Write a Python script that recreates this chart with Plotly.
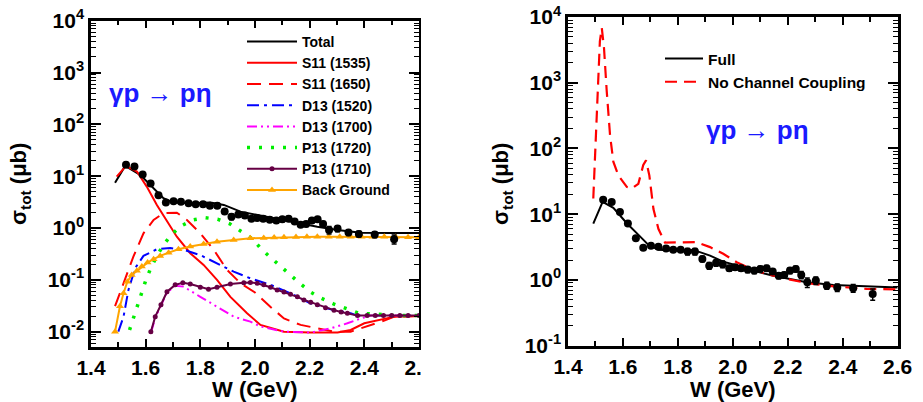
import plotly.graph_objects as go

# ---------------- data ----------------
W_data = [1.528, 1.559, 1.589, 1.618, 1.647, 1.674, 1.702, 1.729, 1.757, 1.783, 1.810, 1.835,
          1.862, 1.889, 1.914, 1.939, 1.963, 1.987, 2.008, 2.030, 2.054, 2.078, 2.100, 2.123,
          2.145, 2.167, 2.187, 2.208, 2.229, 2.249, 2.271, 2.302, 2.342, 2.380, 2.438, 2.509]
sig_data = [16.6, 15.4, 10.8, 7.2, 4.3, 3.1, 3.3, 3.2, 3.0, 2.87, 2.87, 2.70,
            2.70, 2.09, 1.65, 1.82, 1.74, 1.51, 1.56, 1.51, 1.44, 1.39, 1.47, 1.51,
            1.34, 1.16, 1.19, 1.39, 1.47, 1.19, 0.92, 0.98, 0.82, 0.77, 0.75, 0.61]
err_data = [0.4, 0.4, 0.3, 0.2, 0.15, 0.12, 0.12, 0.12, 0.12, 0.15, 0.2, 0.3,
            0.3, 0.2, 0.2, 0.2, 0.2, 0.15, 0.15, 0.15, 0.15, 0.15, 0.15, 0.15,
            0.12, 0.12, 0.12, 0.15, 0.15, 0.15, 0.15, 0.13, 0.1, 0.1, 0.1, 0.12]

# Left panel curves
W_total = [1.488, 1.525, 1.58, 1.629, 1.665, 1.702, 1.763, 1.837, 1.886, 1.947, 2.008, 2.057,
           2.142, 2.228, 2.302, 2.387, 2.497, 2.6]
s_total = [7.5, 15.8, 10.6, 5.9, 3.76, 3.09, 3.0, 3.09, 2.79, 2.07, 1.79, 1.55,
           1.27, 1.06, 0.92, 0.81, 0.80, 0.80]

W_s1535 = [1.494, 1.528, 1.568, 1.604, 1.641, 1.678, 1.714, 1.763, 1.812, 1.861, 1.91, 1.971,
           2.02, 2.106, 2.204, 2.302, 2.35, 2.4, 2.473, 2.51, 2.6]
s_s1535 = [9.8, 15.8, 12.3, 6.3, 2.79, 1.33, 0.68, 0.326, 0.194, 0.1, 0.047, 0.0226,
           0.0135, 0.01, 0.0096, 0.0096, 0.0108, 0.0145, 0.018, 0.0195, 0.02]

W_s1650 = [1.488, 1.519, 1.555, 1.592, 1.629, 1.665, 1.714, 1.751, 1.8, 1.849, 1.898, 1.947,
           2.0, 2.057, 2.106, 2.167, 2.228, 2.289, 2.35, 2.411, 2.473, 2.51, 2.6]
s_s1650 = [0.031, 0.086, 0.28, 0.79, 1.43, 1.93, 1.98, 1.43, 0.79, 0.38, 0.155, 0.086,
           0.057, 0.030, 0.018, 0.0135, 0.0116, 0.01, 0.01, 0.0126, 0.0163, 0.0195, 0.02]

W_d1520 = [1.5, 1.519, 1.537, 1.562, 1.592, 1.641, 1.69, 1.739, 1.8, 1.861, 1.922, 1.983,
           2.057, 2.13, 2.204, 2.277, 2.35, 2.375, 2.6]
s_d1520 = [0.01, 0.0195, 0.064, 0.17, 0.29, 0.39, 0.41, 0.38, 0.30, 0.21, 0.144, 0.107,
           0.08, 0.055, 0.035, 0.027, 0.0226, 0.0204, 0.0204]

W_d1700 = [1.62, 1.636, 1.656, 1.678, 1.708, 1.739, 1.8, 1.861, 1.922, 1.983, 2.02, 2.106,
           2.204, 2.277, 2.338, 2.387, 2.424, 2.6]
s_d1700 = [0.0098, 0.019, 0.032, 0.057, 0.077, 0.074, 0.047, 0.030, 0.0195, 0.0156, 0.0126, 0.01,
           0.0096, 0.0116, 0.0145, 0.018, 0.0204, 0.0204]

W_p1720 = [1.541, 1.555, 1.57, 1.586, 1.601, 1.619, 1.641, 1.665, 1.694, 1.73, 1.773, 1.818,
           1.863, 1.908, 1.95, 1.992, 2.023, 2.06, 2.096, 2.13, 2.167, 2.204, 2.243, 2.289,
           2.335, 2.381, 2.43, 2.473, 2.52, 2.6]
s_p1720 = [0.0108, 0.018, 0.033, 0.057, 0.1, 0.17, 0.29, 0.47, 0.74, 1.1, 1.43, 1.58,
           1.48, 1.2, 0.85, 0.61, 0.39, 0.26, 0.175, 0.12, 0.083, 0.058, 0.044, 0.034,
           0.028, 0.0226, 0.022, 0.021, 0.0204, 0.0204]

W_p1710 = [1.619, 1.635, 1.656, 1.678, 1.708, 1.736, 1.763, 1.8, 1.83, 1.861, 1.91, 1.959,
           1.983, 2.008, 2.032, 2.057, 2.081, 2.106, 2.13, 2.155, 2.179, 2.204, 2.228, 2.258,
           2.289, 2.315, 2.338, 2.375, 2.41, 2.44, 2.47, 2.5, 2.53, 2.56, 2.6]
s_p1710 = [0.01, 0.0195, 0.033, 0.059, 0.08, 0.088, 0.083, 0.072, 0.066, 0.072, 0.083, 0.088,
           0.089, 0.086, 0.08, 0.072, 0.064, 0.058, 0.053, 0.047, 0.041, 0.037, 0.033, 0.029,
           0.026, 0.024, 0.0226, 0.0204, 0.0204, 0.0204, 0.0204, 0.0204, 0.0204, 0.0204, 0.0204]

W_bg = [1.488, 1.506, 1.519, 1.533, 1.549, 1.568, 1.586, 1.607, 1.629, 1.653, 1.684, 1.72,
        1.763, 1.812, 1.861, 1.922, 1.983, 2.032, 2.07, 2.106, 2.15, 2.19, 2.228, 2.27,
        2.31, 2.35, 2.39, 2.43, 2.473, 2.515, 2.56, 2.6]
s_bg = [0.01, 0.031, 0.055, 0.092, 0.124, 0.15, 0.18, 0.215, 0.25, 0.29, 0.335, 0.39,
        0.44, 0.49, 0.545, 0.59, 0.635, 0.645, 0.655, 0.66, 0.67, 0.675, 0.68, 0.68,
        0.68, 0.68, 0.68, 0.68, 0.68, 0.67, 0.665, 0.66]

# Right panel curves
W_full = [1.492, 1.526, 1.565, 1.614, 1.662, 1.692, 1.729, 1.783, 1.844, 1.88, 1.917, 1.965,
          2.025, 2.087, 2.147, 2.208, 2.269, 2.366, 2.487, 2.6]
s_full = [7.2, 15.4, 12.5, 7.3, 4.6, 3.45, 2.87, 2.81, 2.87, 2.65, 2.35, 1.9,
          1.62, 1.34, 1.16, 1.04, 0.92, 0.84, 0.80, 0.77]

W_nocc = [1.492, 1.504, 1.516, 1.523, 1.528, 1.531, 1.541, 1.553, 1.565, 1.583, 1.614, 1.632,
          1.656, 1.674, 1.684, 1.696, 1.711, 1.729, 1.753, 1.818, 1.868, 1.917, 1.965, 2.014,
          2.062, 2.123, 2.195, 2.269, 2.366, 2.487, 2.6]
s_nocc = [17.3, 227, 4260, 6800, 3800, 3400, 740, 160, 63, 39, 26, 24.5,
          29, 56, 66, 39, 12, 6.0, 3.7, 3.76, 3.76, 3.16, 2.5, 1.86,
          1.51, 1.23, 1.04, 0.9, 0.8, 0.73, 0.72]

x_ticks = [1.4, 1.6, 1.8, 2.0, 2.2, 2.4, 2.6]
x_ticktext = ["1.4", "1.6", "1.8", "2.0", "2.2", "2.4", "2.6"]
yL_ticks = [1e-2, 1e-1, 1e0, 1e1, 1e2, 1e3, 1e4]
yL_ticktext = ["10<sup>-2</sup>", "10<sup>-1</sup>", "10<sup>0</sup>", "10<sup>1</sup>",
               "10<sup>2</sup>", "10<sup>3</sup>", "10<sup>4</sup>"]
yR_ticks = [1e-1, 1e0, 1e1, 1e2, 1e3, 1e4]
yR_ticktext = ["10<sup>-1</sup>", "10<sup>0</sup>", "10<sup>1</sup>",
               "10<sup>2</sup>", "10<sup>3</sup>", "10<sup>4</sup>"]

FONT = "Arial, Liberation Sans, sans-serif"

fig = go.Figure()

def L(name, x, y, color, dash="solid", width=2.0, mode="lines", marker=None, xa="x", ya="y", legend="legend", showlegend=True):
    fig.add_trace(go.Scatter(x=x, y=y, name=name, mode=mode, xaxis=xa, yaxis=ya,
                             line=dict(color=color, dash=dash, width=width),
                             marker=marker, legend=legend, showlegend=showlegend))

# left panel
L("Total", W_total, s_total, "black", width=2.0)
L("S11 (1535)", W_s1535, s_s1535, "#ff0000", width=2.0)
L("S11 (1650)", W_s1650, s_s1650, "#ff0000", dash="14px,8px", width=2.0)
L("D13 (1520)", W_d1520, s_d1520, "#0000ff", dash="12px,5px,3px,5px", width=2.0)
L("D13 (1700)", W_d1700, s_d1700, "#ff00ff", dash="10px,4px,2px,4px,2px,4px", width=2.0)
L("P13 (1720)", W_p1720, s_p1720, "#00ee00", dash="3px,9px", width=3.5)
L("P13 (1710)", W_p1710, s_p1710, "#660044", width=2.0, mode="lines+markers",
  marker=dict(symbol="circle", size=5, color="#660044"))
L("Back Ground", W_bg, s_bg, "#ffa500", width=2.0, mode="lines+markers",
  marker=dict(symbol="triangle-up", size=7, color="#ffa500"))

fig.add_trace(go.Scatter(x=W_data, y=sig_data, mode="markers", xaxis="x", yaxis="y",
                         marker=dict(symbol="circle", size=8, color="black"),
                         error_y=dict(type="data", array=err_data, color="black", thickness=1.5, width=2.5),
                         showlegend=False))

# right panel
L("Full", W_full, s_full, "black", width=2.0, xa="x2", ya="y2", legend="legend2")
L("No Channel Coupling", W_nocc, s_nocc, "#ff0000", dash="12px,7px", width=2.2, xa="x2", ya="y2", legend="legend2")
fig.add_trace(go.Scatter(x=W_data, y=sig_data, mode="markers", xaxis="x2", yaxis="y2",
                         marker=dict(symbol="circle", size=8, color="black"),
                         error_y=dict(type="data", array=err_data, color="black", thickness=1.5, width=2.5),
                         showlegend=False))

W, H = 923, 402

def xax(domain):
    return dict(domain=domain, range=[1.4, 2.6], tickvals=x_ticks, ticktext=x_ticktext,
                ticks="inside", ticklen=8, tickwidth=1.5, tickcolor="black",
                minor=dict(dtick=0.1, tick0=1.4, ticks="inside", ticklen=5, tickwidth=1.5, tickcolor="black"),
                showline=True, linewidth=2.5, linecolor="black", mirror="allticks",
                showgrid=False, zeroline=False, automargin=False,
                tickfont=dict(family=FONT, size=21, color="black", weight="bold"))

def yax(domain, rng, anchor, tv, tt):
    return dict(domain=domain, type="log", range=rng, tickvals=tv, ticktext=tt,
                ticks="inside", ticklen=10, tickwidth=1.5, tickcolor="black",
                minor=dict(dtick="D1", ticks="inside", ticklen=5, tickwidth=1.2, tickcolor="black"),
                showline=True, linewidth=2.5, linecolor="black", mirror="allticks",
                showgrid=False, zeroline=False, anchor=anchor, automargin=False,
                tickfont=dict(family=FONT, size=21, color="black", weight="bold"))

lx = [91 / W, 419 / W]
rx = [568 / W, 897.7 / W]
ly = [(H - 346.7) / H, (H - 20.7) / H]
ry = [(H - 345.7) / H, (H - 17) / H]

fig.update_layout(
    width=W, height=H, margin=dict(l=0, r=0, t=0, b=0, autoexpand=False),
    paper_bgcolor="white", plot_bgcolor="white",
    xaxis=dict(**xax(lx), anchor="y"),
    yaxis=yax(ly, [-2.29, 4.0], "x", yL_ticks, yL_ticktext),
    xaxis2=dict(**xax(rx), anchor="y2"),
    yaxis2=yax(ry, [-1, 4.0], "x2", yR_ticks, yR_ticktext),
    legend=dict(x=242 / W, y=1 - 26 / H, xanchor="left", yanchor="top", bgcolor="rgba(0,0,0,0)",
                itemwidth=50,
                font=dict(family=FONT, size=14, color="black", weight="bold"), tracegroupgap=0),
    legend2=dict(x=660 / W, y=1 - 42 / H, xanchor="left", yanchor="top", bgcolor="rgba(0,0,0,0)",
                 itemwidth=38,
                 font=dict(family=FONT, size=15.5, color="black", weight="bold")),
    showlegend=True,
)

ann_font = dict(family=FONT, size=22, color="black", weight="bold")
fig.add_annotation(text="W (GeV)", xref="paper", yref="paper", x=sum(lx) / 2, y=(H - 389) / H,
                   showarrow=False, font=ann_font, xanchor="center", yanchor="middle")
fig.add_annotation(text="W (GeV)", xref="paper", yref="paper", x=sum(rx) / 2, y=(H - 389) / H,
                   showarrow=False, font=ann_font, xanchor="center", yanchor="middle")
fig.add_annotation(text="σ<sub>tot</sub> (μb)", xref="paper", yref="paper", x=20 / W, y=(H - 184) / H,
                   showarrow=False, font=ann_font, textangle=-90, xanchor="center", yanchor="middle")
fig.add_annotation(text="σ<sub>tot</sub> (μb)", xref="paper", yref="paper", x=502 / W, y=(H - 184) / H,
                   showarrow=False, font=ann_font, textangle=-90, xanchor="center", yanchor="middle")

react_font = dict(family=FONT, size=26, color="#1a1aff", weight="bold")
fig.add_annotation(text="γp → pη", xref="paper", yref="paper", x=160 / W, y=(H - 93) / H,
                   showarrow=False, font=react_font, xanchor="center", yanchor="middle")
fig.add_annotation(text="γp → pη", xref="paper", yref="paper", x=757 / W, y=(H - 130) / H,
                   showarrow=False, font=react_font, xanchor="center", yanchor="middle")

# the left panel is cropped at its right frame edge in the original picture
fig.add_shape(type="rect", xref="paper", yref="paper", x0=421 / W, x1=462 / W, y0=0, y1=1,
              fillcolor="white", line=dict(width=0), layer="above")

fig.write_html("out.html", config={"displayModeBar": False},
               post_script="document.body.style.margin='0';document.body.style.overflow='hidden';")
